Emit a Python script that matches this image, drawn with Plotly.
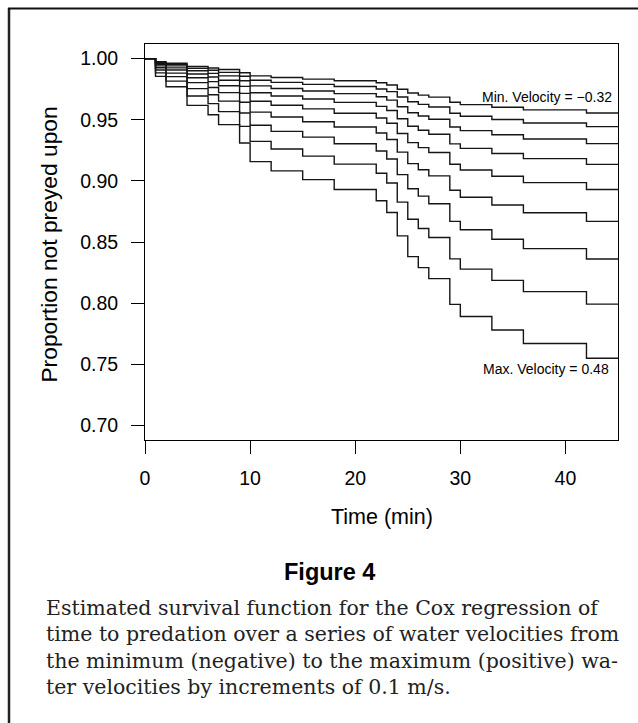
import plotly.graph_objects as go

# ---------------- data ----------------
times = [0, 1, 2, 4, 6, 7, 9, 10, 12, 15, 18, 22, 23, 24, 25, 26, 27, 29, 30, 33, 36, 42]
t_end = 45
velocities = [-0.32, -0.22, -0.12, -0.02, 0.08, 0.18, 0.28, 0.38, 0.48]

s_m032 = [1, 0.9976, 0.9963, 0.9937, 0.9924, 0.9911, 0.9885, 0.9859, 0.9846, 0.9833, 0.9819,
          0.9803, 0.9785, 0.9750, 0.9719, 0.9702, 0.9685, 0.9644, 0.9624, 0.9603, 0.9581, 0.9556]
s_m022 = [1, 0.9970, 0.9953, 0.9921, 0.9905, 0.9888, 0.9856, 0.9823, 0.9806, 0.9790, 0.9772,
          0.9752, 0.9730, 0.9686, 0.9647, 0.9626, 0.9604, 0.9554, 0.9529, 0.9502, 0.9474, 0.9444]
s_m012 = [1, 0.9963, 0.9941, 0.9901, 0.9880, 0.9859, 0.9819, 0.9777, 0.9756, 0.9736, 0.9714,
          0.9688, 0.9661, 0.9607, 0.9557, 0.9531, 0.9504, 0.9441, 0.9411, 0.9377, 0.9343, 0.9305]
s_m002 = [1, 0.9953, 0.9925, 0.9875, 0.9850, 0.9823, 0.9773, 0.9721, 0.9695, 0.9670, 0.9642,
          0.9610, 0.9576, 0.9508, 0.9447, 0.9414, 0.9381, 0.9303, 0.9266, 0.9224, 0.9182, 0.9135]
s_p008 = [1, 0.9941, 0.9907, 0.9844, 0.9812, 0.9779, 0.9716, 0.9652, 0.9619, 0.9589, 0.9554,
          0.9515, 0.9472, 0.9388, 0.9313, 0.9272, 0.9232, 0.9136, 0.9089, 0.9038, 0.8986, 0.8929]
s_p018 = [1, 0.9926, 0.9882, 0.9804, 0.9764, 0.9722, 0.9643, 0.9563, 0.9523, 0.9484, 0.9441,
          0.9392, 0.9339, 0.9235, 0.9141, 0.9091, 0.9041, 0.8923, 0.8866, 0.8803, 0.8739, 0.8669]
s_p028 = [1, 0.9907, 0.9853, 0.9755, 0.9705, 0.9653, 0.9555, 0.9455, 0.9405, 0.9358, 0.9304,
          0.9244, 0.9179, 0.9051, 0.8936, 0.8875, 0.8813, 0.8669, 0.8600, 0.8523, 0.8446, 0.8361]
s_p038 = [1, 0.9884, 0.9816, 0.9694, 0.9632, 0.9567, 0.9446, 0.9323, 0.9261, 0.9203, 0.9137,
          0.9062, 0.8983, 0.8826, 0.8686, 0.8611, 0.8537, 0.8362, 0.8278, 0.8186, 0.8094, 0.7992]
s_p048 = [1, 0.9855, 0.9770, 0.9618, 0.9541, 0.9460, 0.9310, 0.9158, 0.9082, 0.9010, 0.8929,
          0.8838, 0.8741, 0.8550, 0.8380, 0.8290, 0.8200, 0.7990, 0.7890, 0.7780, 0.7670, 0.7549]

curves = [s_m032, s_m022, s_m012, s_m002, s_p008, s_p018, s_p028, s_p038, s_p048]

x_ticks = [0, 10, 20, 30, 40]
y_ticks = [0.70, 0.75, 0.80, 0.85, 0.90, 0.95, 1.00]

x_title = "Time (min)"
y_title = "Proportion not preyed upon"
label_min = "Min. Velocity = \u22120.32"
label_max = "Max. Velocity = 0.48"
fig_label = "Figure 4"
caption_lines = [
    "Estimated survival function for the Cox regression of",
    "time to predation over a series of water velocities from",
    "the minimum (negative) to the maximum (positive) wa-",
    "ter velocities by increments of 0.1 m/s.",
]

# ---------------- layout geometry ----------------
W, H = 638, 723
ML, MR, MT, MB = 145, 20, 44, 283
PW = W - ML - MR
PH = H - MT - MB


def px(x):
    return (x - ML) / PW


def py(y):
    return (H - MB - y) / PH


SANS = "Liberation Sans, Arial, Helvetica, sans-serif"
SERIF = "DejaVu Serif, serif"

fig = go.Figure()
for v, s in zip(velocities, curves):
    fig.add_trace(go.Scatter(
        x=times + [t_end], y=s + [s[-1]],
        mode="lines", line=dict(shape="hv", color="#151515", width=1.4),
        name=f"v = {v}", hoverinfo="skip",
    ))

annotations = [
    dict(text=y_title, x=px(49), y=py(244.6), xref="paper", yref="paper",
         textangle=-90, showarrow=False, font=dict(family=SANS, size=22.8, color="black"),
         xanchor="center", yanchor="middle"),
    dict(text=x_title, x=px(382), y=py(517), xref="paper", yref="paper",
         showarrow=False, font=dict(family=SANS, size=21.5, color="black"),
         xanchor="center", yanchor="middle"),
    dict(text=label_min, x=44.6, y=0.9688, xref="x", yref="y", showarrow=False,
         xanchor="right", yanchor="middle", font=dict(family=SANS, size=14, color="black")),
    dict(text=label_max, x=44.35, y=0.7459, xref="x", yref="y", showarrow=False,
         xanchor="right", yanchor="middle", font=dict(family=SANS, size=14, color="black")),
    dict(text="<b>" + fig_label + "</b>", x=px(329.5), y=py(571.5), xref="paper", yref="paper",
         showarrow=False, xanchor="center", yanchor="middle",
         font=dict(family=SANS, size=23.5, color="black")),
]
for k, line in enumerate(caption_lines):
    annotations.append(dict(
        text=line, x=px(43.5), y=py(607.8 + k * 26.5), xref="paper", yref="paper",
        showarrow=False, xanchor="left", yanchor="middle",
        font=dict(family=SERIF, size=20.5, color="#222")))

shapes = [
    dict(type="line", xref="paper", yref="paper", x0=px(9), x1=px(9), y0=py(8), y1=py(730),
         line=dict(color="#222", width=2.5)),
    dict(type="line", xref="paper", yref="paper", x0=px(8), x1=px(645), y0=py(8.5), y1=py(8.5),
         line=dict(color="#111", width=2.2)),
]

fig.update_layout(
    width=W, height=H,
    margin=dict(l=ML, r=MR, t=MT, b=MB, pad=0),
    paper_bgcolor="white", plot_bgcolor="white",
    showlegend=False,
    annotations=annotations,
    shapes=shapes,
    xaxis=dict(range=[0, t_end], tickvals=x_ticks, ticks="outside", ticklen=13, tickwidth=1,
               tickcolor="black", showline=True, mirror=True, linecolor="black", linewidth=1,
               showgrid=False, zeroline=False, ticklabelstandoff=8,
               tickfont=dict(family=SANS, size=19.5, color="black")),
    yaxis=dict(range=[0.688, 1.012], tickvals=y_ticks, tickformat=".2f", ticks="outside",
               ticklen=13, tickwidth=1, tickcolor="black", showline=True, mirror=True,
               linecolor="black", linewidth=1, showgrid=False, zeroline=False,
               ticklabelstandoff=9, tickfont=dict(family=SANS, size=19.5, color="black")),
)

fig.write_html(
    "out.html",
    config={"displayModeBar": False, "staticPlot": True},
    post_script="document.body.style.margin='0';document.body.style.overflow='hidden';",
)
